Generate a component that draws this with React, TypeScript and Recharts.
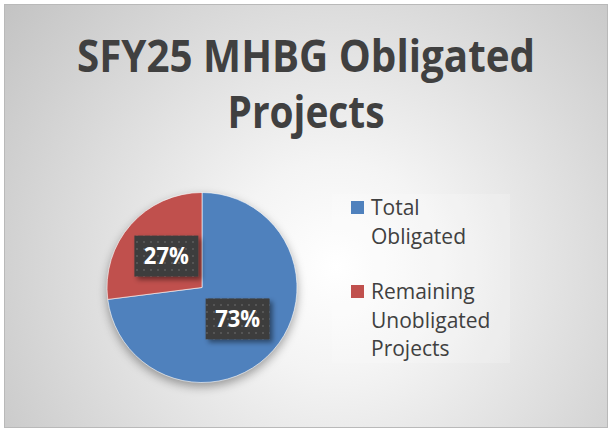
import React from "react";
import { Cell, Legend, Pie, PieChart } from "recharts";

const categories = ["Total Obligated", "Remaining Unobligated Projects"];
const shares = [73, 27];
const sliceColors = ["#4F81BD", "#C0504D"];
const legendLines = [["Total", "Obligated"], ["Remaining", "Unobligated", "Projects"]];
const titleLines = ["SFY25 MHBG Obligated", "Projects"];

const data = categories.map((name, i) => ({ name, value: shares[i] }));

const RAD = Math.PI / 180;

function renderLabel(props: any) {
  const { cx, cy, midAngle, outerRadius, value } = props;
  const r = outerRadius * 0.5;
  const x = cx + r * Math.cos(-midAngle * RAD);
  const y = cy + r * Math.sin(-midAngle * RAD);
  return (
    <g>
      <rect x={x - 32} y={y - 20.5} width={64} height={41} fill="url(#dots)" filter="url(#boxShadow)" />
      <text
        x={x}
        y={y + 8}
        textAnchor="middle"
        fill="#ffffff"
        fontFamily="'Open Sans', sans-serif"
        fontWeight={700}
        fontSize={23}
        textLength={45}
        lengthAdjust="spacingAndGlyphs"
      >
        {`${value}%`}
      </text>
    </g>
  );
}

function renderLegend(props: any) {
  const { payload } = props;
  const tops = [7, 91];
  const entries = (payload || []).slice().sort(
    (a: any, b: any) => categories.indexOf(a.value) - categories.indexOf(b.value)
  );
  return (
    <svg width={178} height={169} style={{ display: "block" }}>
      <rect x={0} y={0} width={178} height={169} fill="rgba(255,255,255,0.18)" />
      {entries.map((entry: any) => {
        const i = categories.indexOf(entry.value);
        return (
          <g key={entry.value}>
            <rect x={19} y={tops[i]} width={13} height={13} fill={sliceColors[i]} />
            {legendLines[i].map((line, j) => (
              <text
                key={line}
                x={39}
                y={tops[i] + 14 + j * 28.5}
                fill="#404040"
                fontFamily="'Open Sans', sans-serif"
                fontSize={21}
              >
                {line}
              </text>
            ))}
          </g>
        );
      })}
    </svg>
  );
}

export default function App() {
  return (
    <div style={{ position: "fixed", left: 0, top: 0, width: 613, height: 432, background: "#ffffff" }}>
      <style>{`.recharts-pie { filter: drop-shadow(0px 4px 5px rgba(0,0,0,0.35)); }`}</style>
      <svg width={0} height={0} style={{ position: "absolute" }}>
        <defs>
          <pattern id="dots" x={0} y={0} width={7} height={7} patternUnits="userSpaceOnUse">
            <rect x={0} y={0} width={7} height={7} fill="#3d3d3d" />
            <rect x={3} y={3} width={2} height={2} fill="#555555" />
          </pattern>
          <filter id="boxShadow" x="-30%" y="-30%" width="160%" height="160%">
            <feDropShadow dx={3} dy={3} stdDeviation={2.5} floodColor="#000" floodOpacity={0.45} />
          </filter>
        </defs>
      </svg>
      <div
        style={{
          position: "absolute",
          left: 4,
          top: 4,
          width: 604,
          height: 424,
          boxSizing: "border-box",
          border: "1px solid #b9b9b9",
          background:
            "radial-gradient(circle farthest-corner at 55% 62%, #ffffff 0%, #f4f4f4 25%, #c3c3c3 100%)",
        }}
      />
      <svg width={613} height={432} style={{ position: "absolute", left: 0, top: 0 }}>
        {titleLines.map((line, i) => (
          <text
            key={line}
            x={306}
            y={72 + i * 56}
            textAnchor="middle"
            fill="#404040"
            fontFamily="'Open Sans', sans-serif"
            fontWeight={700}
            fontSize={44}
            textLength={i === 0 ? 458 : 157}
            lengthAdjust="spacingAndGlyphs"
          >
            {line}
          </text>
        ))}
      </svg>
      <div style={{ position: "absolute", left: 0, top: 0 }}>
        <PieChart width={613} height={432} margin={{ top: 0, right: 0, bottom: 0, left: 0 }}>
          <Pie
            data={data}
            dataKey="value"
            nameKey="name"
            cx={202}
            cy={287.5}
            outerRadius={95}
            startAngle={90}
            endAngle={-270}
            stroke="rgba(255,255,255,0.6)"
            strokeWidth={1}
            label={renderLabel}
            labelLine={false}
            isAnimationActive={false}
          >
            {data.map((d, i) => (
              <Cell key={d.name} fill={sliceColors[i]} />
            ))}
          </Pie>
          <Legend
            content={renderLegend}
            wrapperStyle={{ position: "absolute", left: 332, top: 194, width: 178, height: 169 }}
          />
        </PieChart>
      </div>
    </div>
  );
}
